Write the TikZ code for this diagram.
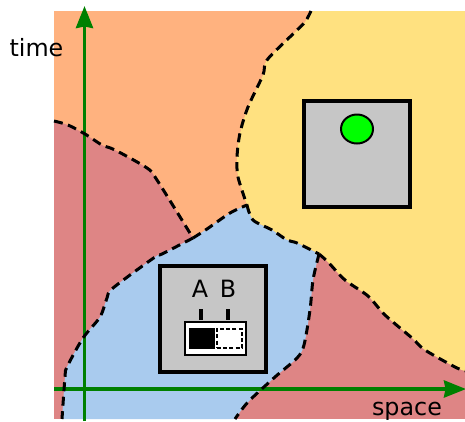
\documentclass[tikz,border=0pt]{standalone}
\usepackage{fontspec}
\setmainfont{DejaVu Sans}
\usetikzlibrary{arrows.meta,shapes.geometric}
\definecolor{regorange}{HTML}{FFB27F}
\definecolor{regyellow}{HTML}{FFE180}
\definecolor{regblue}{HTML}{A9CBEE}
\definecolor{regred}{HTML}{DE8585}
\definecolor{boxgrey}{HTML}{C6C6C6}
\definecolor{axisgreen}{HTML}{008000}
\def\OY{(311,11) (305,22) (294,33) (267,60) (263,75) (248,107) (240,133) (237,157) (238,177) (247,205)}
\def\YB{(247,205) (253,220) (272,230) (287,240) (297,243) (319,254)}
\def\YR{(319,254) (328,262) (345,280) (368,296) (385,315) (412,338) (425,350) (455,367) (465,371)}
\def\BRr{(319,254) (313,280) (310,310) (304,345) (297,358) (275,377) (248,402) (235,419)}
\def\RO{(54,121) (68,125) (85,134) (102,145) (115,150) (147,168) (157,180) (193,238)}
\def\OB{(193,238) (207,229) (230,213) (247,205)}
\def\BRl{(193,238) (162,254) (155,257) (113,288) (107,298) (100,317) (83,338) (67,367) (65,377) (62,419)}
\tikzset{
  sm/.style={smooth,tension=0.5},
  bound/.style={line width=3bp,dash pattern=on 9bp off 5.5bp,black},
  axisline/.style={line width=3.4bp,axisgreen,-{Stealth[length=22bp,width=17bp,inset=1.5bp]}},
  bigbox/.style={draw=black,fill=boxgrey,line width=3.8bp,minimum width=106bp,minimum height=106bp,inner sep=0pt,rectangle},
  lab/.style={font=\fontsize{23.8bp}{26bp}\selectfont,inner sep=0pt,text=black},
  ticks/.style={line width=3.2bp,black}
}
\begin{document}
\begin{tikzpicture}[x=1bp,y=-1bp]
\useasboundingbox (0,0) rectangle (465,421);
\clip (0,0) rectangle (465,421);
% regions
\fill[regred] (54,11) rectangle (465,419);
\fill[regorange] (54,11) -- (54,121) -- plot[sm] coordinates {\RO} -- plot[sm] coordinates {\OB} -- plot[sm] coordinates {(247,205) (238,177) (237,157) (240,133) (248,107) (263,75) (267,60) (294,33) (305,22) (311,11)} -- cycle;
\fill[regyellow] (465,11) -- plot[sm] coordinates {\OY} -- plot[sm] coordinates {\YB} -- plot[sm] coordinates {\YR} -- cycle;
\fill[regblue] (62,419) -- plot[sm] coordinates {(62,419) (65,377) (67,367) (83,338) (100,317) (107,298) (113,288) (155,257) (162,254) (193,238)} -- plot[sm] coordinates {\OB} -- plot[sm] coordinates {\YB} -- plot[sm] coordinates {\BRr} -- cycle;
% axes
\coordinate (xstart) at (54,389);
\coordinate (xend) at (466,389);
\coordinate (ystart) at (84.5,421);
\coordinate (yend) at (84.5,6);
\draw[axisline] (xstart) -- (xend);
\draw[axisline] (ystart) -- (yend);
% boundaries
\draw[bound] plot[sm] coordinates {\OY};
\draw[bound] plot[sm] coordinates {\YB};
\draw[bound] plot[sm] coordinates {\YR};
\draw[bound] plot[sm] coordinates {\BRr};
\draw[bound] plot[sm] coordinates {\RO};
\draw[bound] plot[sm] coordinates {\OB};
\draw[bound] plot[sm] coordinates {\BRl};
% upper box
\node[bigbox] (ubox) at (357,154) {};
\node[draw=black,fill=green,line width=2bp,ellipse,minimum width=32bp,minimum height=29bp,inner sep=0pt] (ball) at (357,129) {};
% lower box
\node[bigbox] (lbox) at (213,319) {};
\node[draw=black,fill=white,line width=2.2bp,minimum width=61bp,minimum height=33bp,inner sep=0pt] (switch) at (215.5,338.5) {};
\node[fill=black,minimum width=26bp,minimum height=21bp,inner sep=0pt] (onhalf) at (202,338.5) {};
\node[draw=black,fill=white,line width=1.9bp,dash pattern=on 4bp off 2.2bp,minimum width=25bp,minimum height=19bp,inner sep=0pt] (offhalf) at (229.5,338.5) {};
\node[lab,anchor=base] (a) at (200,297) {A};
\node[lab,anchor=base] (b) at (228,297) {B};
\coordinate (ta) at (201,309);
\coordinate (tb) at (228,309);
\coordinate (ta2) at (201,320);
\coordinate (tb2) at (228,320);
\draw[ticks] (ta) -- (ta2);
\draw[ticks] (tb) -- (tb2);
% axis labels
\node[lab,anchor=base] (time) at (36.5,56) {time};
\node[lab,anchor=base] (space) at (407,415.2) {space};
\end{tikzpicture}
\end{document}
